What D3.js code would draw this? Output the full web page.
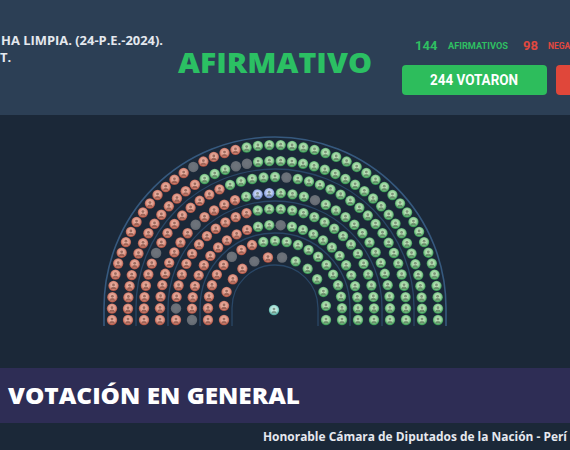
<!DOCTYPE html>
<html><head><meta charset="utf-8">
<script src="https://cdn.jsdelivr.net/npm/d3@7"></script>
<style>html,body{margin:0;padding:0;background:#1b2838;overflow:hidden}</style>
</head><body>
<svg id="c" width="570" height="450"></svg>
<script>
// ---------- DATA ----------
const rowSeatCounts = [48, 44, 39, 34, 30, 26, 21, 14];          // outer -> inner
// vote of each seat, left (bottom-left) to right, run-length: [code, count]
// R = negativo, A = afirmativo, X = ausente, B = abstención
const rowVoteRuns = [
  [["R",16],["X",1],["R",4],["A",27]],
  [["R",15],["A",3],["X",2],["A",24]],
  [["R",6],["X",1],["R",8],["A",5],["X",1],["A",18]],
  [["R",9],["X",1],["R",4],["A",1],["B",2],["A",3],["X",1],["A",13]],
  [["R",1],["X",1],["R",11],["A",17]],
  [["X",1],["R",10],["A",2],["X",1],["A",12]],
  [["R",6],["X",1],["R",2],["A",12]],
  [["R",5],["X",1],["R",1],["X",1],["A",6]]
];
const voteCodes  = ["R", "A", "X", "B", "P"];
const voteNames  = ["negativo", "afirmativo", "ausente", "abstencion", "presidente"];
const titleLines = ["HA LIMPIA. (24-P.E.-2024).", "T."];
const resultText = "AFIRMATIVO";
const afirmativosCount = 144;
const negativosCount = 98;
const votaronCount = 244;
const afirmativosLabel = "AFIRMATIVOS";
const negativosLabel = "NEGA";
const bandText = "VOTACIÓN EN GENERAL";
const footerText = "Honorable Cámara de Diputados de la Nación - Perí";

// ---------- DRAW ----------
const svg = d3.select("#c");
const W = 570, H = 450;
const defs = svg.append("defs");

// backgrounds
svg.append("rect").attr("x",0).attr("y",0).attr("width",W).attr("height",H).attr("fill","#1b2838");
svg.append("rect").attr("x",0).attr("y",0).attr("width",W).attr("height",115).attr("fill","#2c3f55");
svg.append("rect").attr("x",0).attr("y",368).attr("width",W).attr("height",55).attr("fill","#2e2d55");

// seat gradients
const grad = [
  {id:"R", stops:["#f2c4b6","#dd9686","#a64838"]},
  {id:"A", stops:["#dff3d4","#94d09a","#268c46"]},
  {id:"X", stops:["#6f747c","#6a7078","#62676f"]},
  {id:"B", stops:["#eef2ff","#aebfee","#6680c8"]},
  {id:"P", stops:["#e6f7f2","#a9e0d6","#3f9f95"]}
];
grad.forEach(g=>{
  const rg = defs.append("radialGradient").attr("id","g"+g.id).attr("cx","50%").attr("cy","45%").attr("r","55%");
  rg.append("stop").attr("offset","0%").attr("stop-color",g.stops[0]);
  rg.append("stop").attr("offset","62%").attr("stop-color",g.stops[1]);
  rg.append("stop").attr("offset","100%").attr("stop-color",g.stops[2]);
});
const fillScale = d3.scaleOrdinal().domain(voteCodes).range(voteCodes.map(c=>"url(#g"+c+")"));

// geometry
const cx = 275, cy = 308, ext = 12;
const rScale = d3.scaleLinear().domain([0, rowSeatCounts.length-1]).range([163, 51]);

// separator arcs
const sepRows = [-0.5, 1.5, 3.5, 5.5, 7.5];
sepRows.forEach((k,i)=>{
  const r = rScale(k);
  const p = d3.path();
  p.moveTo(cx - r, cy + ext + 6);
  p.lineTo(cx - r, cy);
  p.arc(cx, cy, r, Math.PI, 2*Math.PI);
  p.lineTo(cx + r, cy + ext + 6);
  svg.append("path").attr("d", p.toString()).attr("fill","none")
    .attr("stroke", i===0 ? "#36597e" : "#2a4766").attr("stroke-width", i===0 ? 1.6 : 1.3);
});

// seats
const seats = [];
rowSeatCounts.forEach((n, row)=>{
  const codes = [];
  rowVoteRuns[row].forEach(([c,k])=>{ for(let j=0;j<k;j++) codes.push(c); });
  if (codes.length !== n) console.warn("row", row, codes.length, n);
  const r = rScale(row);
  const L = 2*ext + Math.PI*r;
  const pos = d3.scaleLinear().domain([0, n-1]).range([0, L]);
  codes.forEach((c, i)=>{
    const d = pos(i);
    let x, y;
    if (d < ext) { x = cx - r; y = cy + ext - d; }
    else if (d <= ext + Math.PI*r) { const t = Math.PI - (d-ext)/r; x = cx + r*Math.cos(t); y = cy - r*Math.sin(t); }
    else { x = cx + r; y = cy + (d - ext - Math.PI*r); }
    seats.push({x, y, c});
  });
});
seats.push({x: cx - 1, y: cy + 2, c: "P"});

const sg = svg.append("g").selectAll("g").data(seats).join("g")
  .attr("transform", d=>`translate(${d.x},${d.y})`);
sg.append("circle").attr("r", 5.2).attr("fill", d=>fillScale(d.c));
sg.filter(d=>d.c!=="X").append("circle").attr("cy",-0.9).attr("r",1.4)
  .attr("fill", d=>d.c==="R" ? "rgba(90,40,30,0.55)" : "rgba(40,60,40,0.5)");
sg.filter(d=>d.c!=="X").append("path").attr("d","M-2.6,3.2 Q-2.4,0.9 0,0.9 Q2.4,0.9 2.6,3.2 Z")
  .attr("fill", d=>d.c==="R" ? "rgba(90,40,30,0.5)" : "rgba(40,60,40,0.45)");

// ---------- TEXTS ----------
const font = "'Open Sans', 'DejaVu Sans', sans-serif";
svg.append("text").attr("x",1).attr("y",45)
  .attr("font-family",font).attr("font-weight",700).attr("font-size",13)
  .attr("textLength",162).attr("lengthAdjust","spacingAndGlyphs")
  .attr("fill","#e4e8ee").text(titleLines[0]);
svg.append("text").attr("x",0).attr("y",62)
  .attr("font-family",font).attr("font-weight",700).attr("font-size",13)
  .attr("fill","#e4e8ee").text(titleLines[1]);

svg.append("text").attr("x",178).attr("y",73)
  .attr("font-family",font).attr("font-weight",800).attr("font-size",28)
  .attr("textLength",194).attr("lengthAdjust","spacingAndGlyphs")
  .attr("fill","#2bc063").text(resultText);

svg.append("text").attr("x",415).attr("y",50)
  .attr("font-family","Roboto, sans-serif").attr("font-weight",700).attr("font-size",13)
  .attr("fill","#2fbf62").text(afirmativosCount);
svg.append("text").attr("x",448).attr("y",49)
  .attr("font-family","Roboto, sans-serif").attr("font-weight",700).attr("font-size",8.5)
  .attr("textLength",60).attr("lengthAdjust","spacingAndGlyphs")
  .attr("fill","#2fbf62").text(afirmativosLabel);
svg.append("text").attr("x",523).attr("y",50)
  .attr("font-family","Roboto, sans-serif").attr("font-weight",700).attr("font-size",13)
  .attr("fill","#e0483f").text(negativosCount);
svg.append("text").attr("x",548).attr("y",49)
  .attr("font-family","Roboto, sans-serif").attr("font-weight",700).attr("font-size",8.5)
  .attr("fill","#e0483f").text(negativosLabel);

svg.append("rect").attr("x",402).attr("y",65).attr("width",145).attr("height",30).attr("rx",4)
  .attr("fill","#2dbd5c");
svg.append("text").attr("x",474).attr("y",85).attr("text-anchor","middle")
  .attr("font-family","Roboto, sans-serif").attr("font-weight",700).attr("font-size",14)
  .attr("textLength",88).attr("lengthAdjust","spacingAndGlyphs")
  .attr("fill","#ffffff").text(votaronCount + " VOTARON");
svg.append("rect").attr("x",556).attr("y",65).attr("width",40).attr("height",30).attr("rx",4)
  .attr("fill","#e0473a");

svg.append("text").attr("x",8).attr("y",404)
  .attr("font-family",font).attr("font-weight",800).attr("font-size",22)
  .attr("textLength",292).attr("lengthAdjust","spacingAndGlyphs")
  .attr("fill","#ffffff").text(bandText);

svg.append("text").attr("x",263).attr("y",441)
  .attr("font-family",font).attr("font-weight",700).attr("font-size",11.5)
  .attr("textLength",304).attr("lengthAdjust","spacingAndGlyphs")
  .attr("fill","#e6e8ef").text(footerText);
</script>
</body></html>
